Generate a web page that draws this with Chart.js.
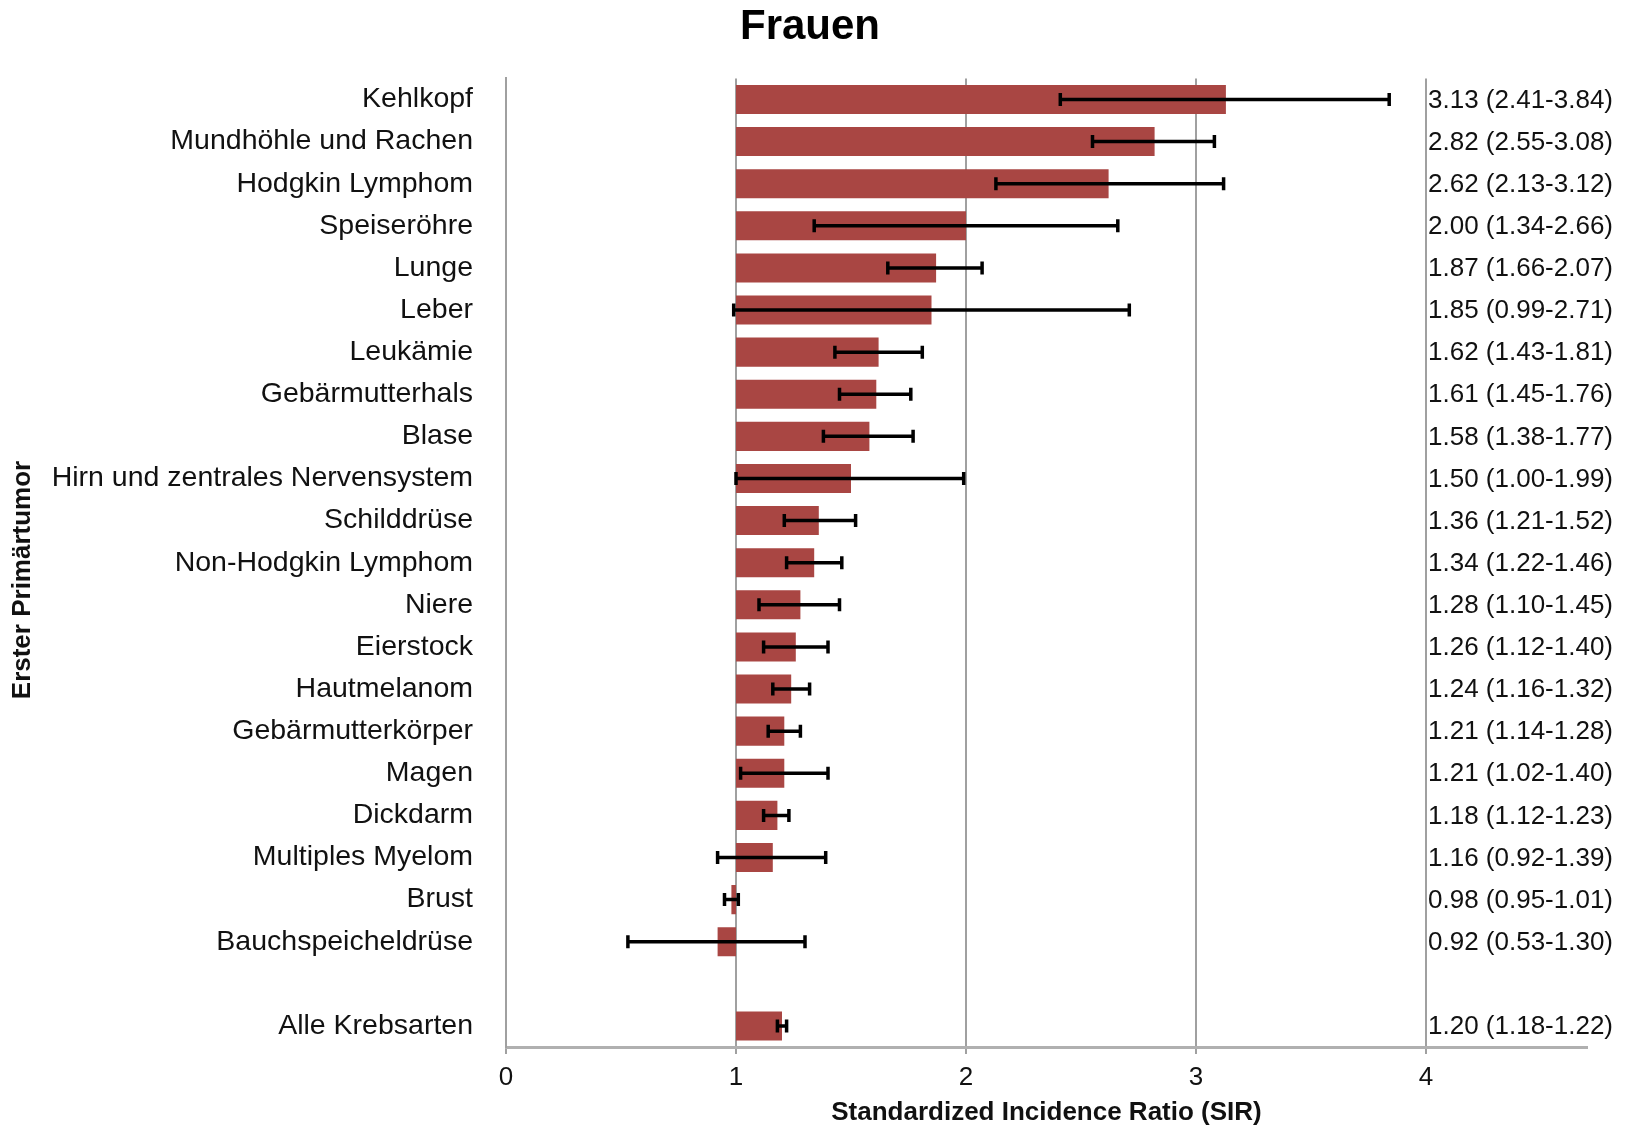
<!DOCTYPE html>
<html>
<head>
<meta charset="utf-8">
<script src="https://cdn.jsdelivr.net/npm/chart.js@4/dist/chart.umd.min.js"></script>
<style>
  html, body { margin: 0; padding: 0; background: #fff; }
  #wrap { width: 1629px; height: 1129px; }
</style>
</head>
<body>
<div id="wrap"><canvas id="c" width="1629" height="1129"></canvas></div>
<script>
// Cancer sites (first primary tumour); an empty row separates the total.
const categories = [
  'Kehlkopf', 'Mundhöhle und Rachen', 'Hodgkin Lymphom', 'Speiseröhre', 'Lunge',
  'Leber', 'Leukämie', 'Gebärmutterhals', 'Blase', 'Hirn und zentrales Nervensystem',
  'Schilddrüse', 'Non-Hodgkin Lymphom', 'Niere', 'Eierstock', 'Hautmelanom',
  'Gebärmutterkörper', 'Magen', 'Dickdarm', 'Multiples Myelom', 'Brust',
  'Bauchspeicheldrüse', '', 'Alle Krebsarten'
];
// Standardized incidence ratio and its 95% confidence interval
const sir = [3.13, 2.82, 2.62, 2.00, 1.87, 1.85, 1.62, 1.61, 1.58, 1.50, 1.36, 1.34,
             1.28, 1.26, 1.24, 1.21, 1.21, 1.18, 1.16, 0.98, 0.92, null, 1.20];
const ciLow = [2.41, 2.55, 2.13, 1.34, 1.66, 0.99, 1.43, 1.45, 1.38, 1.00, 1.21, 1.22,
               1.10, 1.12, 1.16, 1.14, 1.02, 1.12, 0.92, 0.95, 0.53, null, 1.18];
const ciHigh = [3.84, 3.08, 3.12, 2.66, 2.07, 2.71, 1.81, 1.76, 1.77, 1.99, 1.52, 1.46,
                1.45, 1.40, 1.32, 1.28, 1.40, 1.23, 1.39, 1.01, 1.30, null, 1.22];
const xTicks = [0, 1, 2, 3, 4];
const reference = 1;   // bars start at SIR = 1

const FONT = '"Liberation Sans", Arial, Helvetica, sans-serif';

// Bars grow from the reference value to the SIR
const barData = sir.map(v => v === null ? null : [reference, v]);
const valueLabels = sir.map((v, i) => v === null ? '' :
  v.toFixed(2) + ' (' + ciLow[i].toFixed(2) + '-' + ciHigh[i].toFixed(2) + ')');

// Confidence interval whiskers, the value text at the right and the y-axis title
const ciPlugin = {
  id: 'ciWhiskers',
  afterDatasetsDraw(chart) {
    const ctx = chart.ctx;
    const xs = chart.scales.x, ys = chart.scales.y;
    ctx.save();
    ctx.strokeStyle = '#000';
    ctx.lineWidth = 3.5;
    ctx.lineCap = 'butt';
    for (let i = 0; i < sir.length; i++) {
      if (sir[i] === null) continue;
      const y = ys.getPixelForValue(i);
      const x1 = xs.getPixelForValue(ciLow[i]);
      const x2 = xs.getPixelForValue(ciHigh[i]);
      ctx.beginPath();
      ctx.moveTo(x1, y); ctx.lineTo(x2, y);
      ctx.moveTo(x1, y - 6.5); ctx.lineTo(x1, y + 6.5);
      ctx.moveTo(x2, y - 6.5); ctx.lineTo(x2, y + 6.5);
      ctx.stroke();
    }
    ctx.fillStyle = '#111';
    ctx.font = '26px ' + FONT;
    ctx.textAlign = 'left';
    ctx.textBaseline = 'middle';
    const xl = xs.getPixelForValue(4) + 2;
    for (let i = 0; i < valueLabels.length; i++) {
      if (!valueLabels[i]) continue;
      ctx.fillText(valueLabels[i], xl, ys.getPixelForValue(i) + 1);
    }
    // y-axis title, rotated
    ctx.translate(23, 580);
    ctx.rotate(-Math.PI / 2);
    ctx.textAlign = 'center';
    ctx.font = 'bold 26px ' + FONT;
    ctx.fillText('Erster Primärtumor', 0, 0);
    ctx.restore();
  }
};

new Chart(document.getElementById('c'), {
  type: 'bar',
  data: {
    labels: categories,
    datasets: [{
      data: barData,
      backgroundColor: '#A94643',
      borderWidth: 0,
      categoryPercentage: 1,
      barPercentage: 0.69
    }]
  },
  options: {
    indexAxis: 'y',
    responsive: false,
    animation: false,
    layout: { padding: { left: 0, right: 9, top: 2, bottom: 0 } },
    plugins: {
      legend: { display: false },
      tooltip: { enabled: false },
      title: {
        display: true,
        text: 'Frauen',
        color: '#000',
        font: { family: FONT, size: 42, weight: 'bold' },
        padding: { top: 0, bottom: 26 }
      }
    },
    scales: {
      x: {
        type: 'linear',
        min: 0,
        max: 4.7,
        afterBuildTicks: (scale) => {
          scale.ticks = xTicks.map(v => ({ value: v }));
        },
        afterFit: (scale) => { scale.height = 82; },
        grid: {
          color: '#a0a0a0',
          lineWidth: 2,
          tickLength: 7,
          drawOnChartArea: true
        },
        border: { display: true, color: '#b0b0b0', width: 3 },
        ticks: {
          color: '#111',
          font: { family: FONT, size: 26 },
          padding: 8,
          maxRotation: 0,
          callback: (v) => String(v)
        },
        title: {
          display: true,
          text: 'Standardized Incidence Ratio (SIR)',
          color: '#111',
          font: { family: FONT, size: 26, weight: 'bold' },
          padding: { top: 0, bottom: 1 }
        }
      },
      y: {
        type: 'category',
        afterFit: (scale) => { scale.width = 506; },
        grid: { display: false, drawTicks: false },
        border: { display: true, color: '#a0a0a0', width: 2 },
        ticks: {
          color: '#111',
          font: { family: FONT, size: 28.5 },
          padding: 33,
          autoSkip: false
        }
      },
      // empty margin at the right of the plot
      yRight: {
        type: 'category',
        position: 'right',
        labels: [],
        afterFit: (scale) => { scale.width = 33; },
        grid: { display: false, drawTicks: false },
        border: { display: false },
        ticks: { display: false }
      }
    }
  },
  plugins: [ciPlugin]
});
</script>
</body>
</html>
